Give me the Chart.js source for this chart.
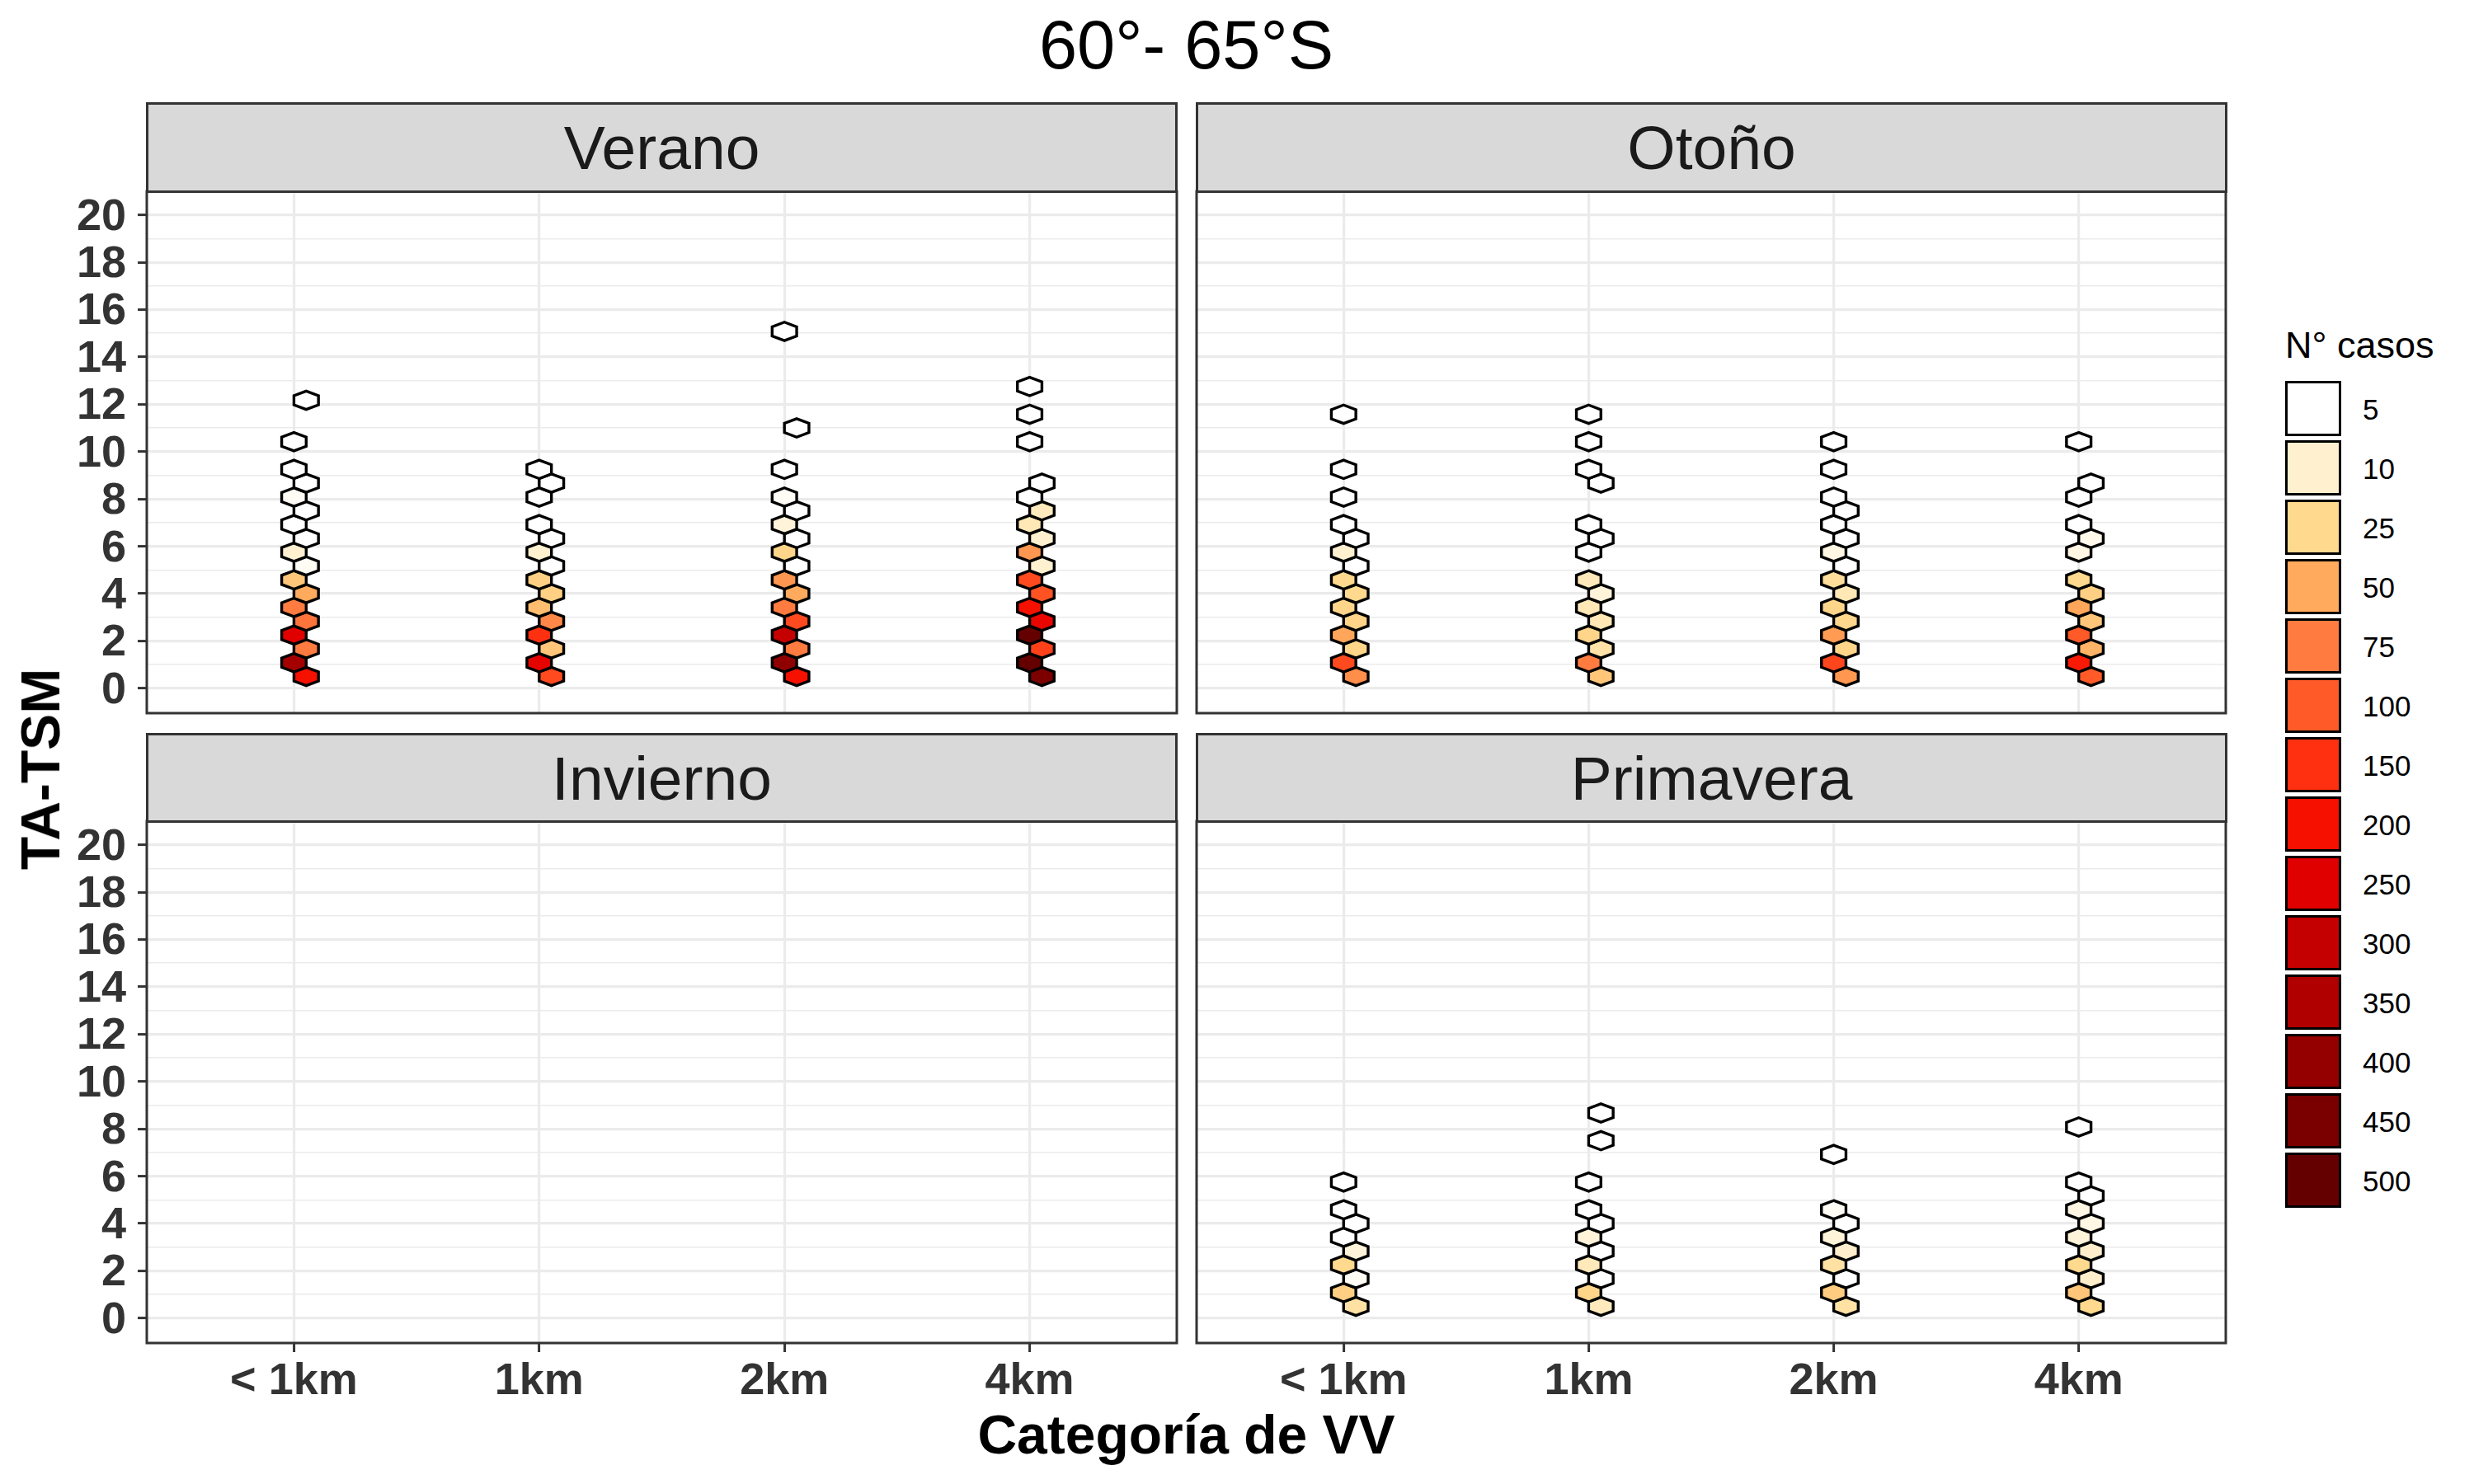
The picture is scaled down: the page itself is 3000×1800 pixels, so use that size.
<!DOCTYPE html>
<html>
<head>
<meta charset="utf-8">
<title>60°- 65°S</title>
<script src="https://cdn.jsdelivr.net/npm/chart.js@4.4.1/dist/chart.umd.min.js"></script>
<style>
  body { margin: 0; background: #fff; font-family: "Liberation Sans", Arial, sans-serif; }
  #page { position: relative; width: 3000px; height: 1800px; overflow: hidden; background: #fff; }
  #page canvas { position: absolute; }
  .strip { position: absolute; box-sizing: border-box; background: #d9d9d9; border: 3px solid #333;
           color: #1a1a1a; font-size: 75px; display: flex; align-items: center; justify-content: center; }
  .txt { position: absolute; line-height: 1; white-space: nowrap; color: #000; }
  .key { position: absolute; box-sizing: border-box; border: 3.4px solid #000; width: 68px; height: 67px; }
</style>
</head>
<body>
<div id="page"></div>
<script>
// ---- data ----
const seasons = ['Verano', 'Otoño', 'Invierno', 'Primavera'];
const categories = ['< 1km', '1km', '2km', '4km'];
const yMajor = [0, 2, 4, 6, 8, 10, 12, 14, 16, 18, 20];
const yMinor = [1, 3, 5, 7, 9, 11, 13, 15, 17, 19];

// centre of each hexbin row (TA-TSM); even rows sit half a hex to the right
const rowY = [0.50, 1.08, 1.67, 2.25, 2.83, 3.42, 4.00, 4.58, 5.17, 5.75, 6.33, 6.92, 7.50,
              8.08, 8.67, 9.25, 9.83, 10.42, 11.00, 11.58, 12.17, 12.75, 13.33, 13.92, 14.50, 15.08];

const legendBreaks = [5, 10, 25, 50, 75, 100, 150, 200, 250, 300, 350, 400, 450, 500];
const legendColors = ['#ffffff', '#fff0d0', '#ffd98e', '#ffaa5c', '#ff7b40', '#ff5a28', '#ff3010',
                      '#f51000', '#e10000', '#c50000', '#b00000', '#940000', '#7a0000', '#650000'];

// N° casos per hexbin row, one list per VV category (null = empty bin)
const verano = [
  [200, 370, 75, 250, 80, 75, 50, 35, 6, 10, 3, 3, 3, 6, 3, 3, null, 2, null, null, 1],
  [120, 240, 35, 150, 68, 40, 30, 30, 4, 10, 3, 3, null, 3, 2, 2],
  [200, 410, 75, 300, 120, 75, 50, 60, 4, 27, 3, 9, 3, 6, null, 2, null, null, 1,
   null, null, null, null, null, null, 1],
  [445, 500, 130, 500, 230, 200, 110, 120, 10, 60, 10, 16, 14, 3, 3, null, null, 2, null, 2, null, 1]
];
const otono = [
  [65, 120, 27, 52, 28, 27, 25, 25, 3, 10, 3, 3, null, 2, null, 2, null, null, null, 1],
  [35, 75, 19, 27, 16, 16, 9, 15, null, 3, 3, 3, null, null, 2, 2, null, 2, null, 1],
  [60, 125, 27, 58, 26, 27, 16, 22, 3, 8, 3, 3, 3, 2, null, 2, null, 1],
  [100, 185, 45, 100, 35, 52, 30, 25, null, 8, 7, 3, null, 2, 2, null, null, 1]
];
const invierno = [[], [], [], []];
const primavera = [
  [20, 30, 6, 25, 9, 3, 3, 3, null, 2],
  [14, 27, 3, 15, 3, 9, 3, 3, null, 2, null, null, 1, null, 1],
  [20, 32, 3, 20, 11, 9, 3, 6, null, null, null, 1],
  [25, 35, 11, 25, 11, 9, 8, 8, 3, 2, null, null, null, 1]
];
const seasonCounts = [verano, otono, invierno, primavera];

// ---- look ----
const hexW = 0.1;      // flat-to-flat width, x units
const hexH = 0.778;    // point-to-point height, y units
const FONT = "'Liberation Sans', Arial, sans-serif";
Chart.defaults.font.family = FONT;

function rgb(h) {
  return [parseInt(h.slice(1, 3), 16), parseInt(h.slice(3, 5), 16), parseInt(h.slice(5, 7), 16)];
}
function fillFor(n) {
  if (n <= legendBreaks[0]) return legendColors[0];
  for (let i = 1; i < legendBreaks.length; i++) {
    if (n <= legendBreaks[i]) {
      const t = (n - legendBreaks[i - 1]) / (legendBreaks[i] - legendBreaks[i - 1]);
      const a = rgb(legendColors[i - 1]), b = rgb(legendColors[i]);
      return 'rgb(' + a.map((v, k) => Math.round(v + (b[k] - v) * t)).join(',') + ')';
    }
  }
  return legendColors[legendColors.length - 1];
}

const hexPlugin = {
  id: 'hexbins',
  afterDatasetsDraw(chart) {
    const {ctx, chartArea: ca, scales: {x, y}} = chart;
    const hw = Math.abs(x.getPixelForValue(hexW / 2) - x.getPixelForValue(0));
    const hh = Math.abs(y.getPixelForValue(0) - y.getPixelForValue(hexH / 2));
    const pts = chart.data.datasets[0].data;
    ctx.save();
    ctx.beginPath();
    ctx.rect(ca.left, ca.top, ca.width, ca.height);
    ctx.clip();
    ctx.lineWidth = 3.4;
    ctx.strokeStyle = '#000';
    ctx.lineJoin = 'miter';
    chart.getDatasetMeta(0).data.forEach((el, i) => {
      const cx = el.x, cy = el.y;
      ctx.beginPath();
      ctx.moveTo(cx, cy - hh);
      ctx.lineTo(cx + hw, cy - hh / 2);
      ctx.lineTo(cx + hw, cy + hh / 2);
      ctx.lineTo(cx, cy + hh);
      ctx.lineTo(cx - hw, cy + hh / 2);
      ctx.lineTo(cx - hw, cy - hh / 2);
      ctx.closePath();
      ctx.fillStyle = fillFor(pts[i].count);
      ctx.fill();
      ctx.stroke();
    });
    ctx.restore();
  },
  afterDraw(chart) {
    const {ctx, chartArea: ca} = chart;
    ctx.save();
    ctx.strokeStyle = '#333';
    ctx.lineWidth = 3;
    ctx.strokeRect(ca.left, ca.top, ca.width, ca.height);
    ctx.restore();
  }
};

// canvas placement of the four facets
const panelBoxes = [
  {left: 0,    top: 228, width: 1431, height: 641, padL: 0, showY: true,  showX: false},
  {left: 1447, top: 228, width: 1256, height: 641, padL: 4, showY: false, showX: false},
  {left: 0,    top: 992, width: 1431, height: 757, padL: 0, showY: true,  showX: true},
  {left: 1447, top: 992, width: 1256, height: 757, padL: 4, showY: false, showX: true}
];
const stripBoxes = [
  {left: 177, top: 124, height: 110}, {left: 1450, top: 124, height: 110},
  {left: 177, top: 889, height: 109}, {left: 1450, top: 889, height: 109}
];

const page = document.getElementById('page');
const yTickValues = yMajor.concat(yMinor).sort((a, b) => a - b);

seasonCounts.forEach((counts, p) => {
  const box = panelBoxes[p];
  const points = [];
  counts.forEach((col, ci) => {
    col.forEach((n, r) => {
      if (n === null || n === undefined) return;
      points.push({x: ci + 1 + (r % 2 === 0 ? hexW / 2 : 0), y: rowY[r], count: n});
    });
  });

  const cv = document.createElement('canvas');
  cv.width = box.width;
  cv.height = box.height;
  cv.style.left = box.left + 'px';
  cv.style.top = box.top + 'px';
  page.appendChild(cv);

  new Chart(cv.getContext('2d'), {
    type: 'scatter',
    data: {datasets: [{data: points, pointRadius: 0, pointHoverRadius: 0}]},
    options: {
      responsive: false,
      animation: false,
      events: [],
      devicePixelRatio: 1,
      layout: {padding: {left: box.padL, right: 4, top: 4, bottom: box.showX ? 0 : 4}},
      plugins: {legend: {display: false}, tooltip: {enabled: false}},
      scales: {
        x: {
          type: 'linear', min: 0.4, max: 4.6,
          afterBuildTicks: s => { s.ticks = categories.map((c, i) => ({value: i + 1})); },
          afterFit: s => { s.height = box.showX ? 120 : 0; s.paddingLeft = 0; s.paddingRight = 0; },
          ticks: {
            display: box.showX, autoSkip: false, maxRotation: 0, padding: 4,
            color: '#333333', font: {size: 54, weight: 'bold'},
            callback: v => categories[v - 1]
          },
          grid: {color: '#ebebeb', lineWidth: 3.2, drawTicks: box.showX, tickLength: 11,
                 tickColor: '#333333', tickWidth: 3},
          border: {display: false}
        },
        y: {
          type: 'linear', min: -1.05, max: 21.0,
          afterBuildTicks: s => { s.ticks = yTickValues.map(v => ({value: v})); },
          afterFit: s => { s.width = box.showY ? 178 : 0; s.paddingTop = 0; s.paddingBottom = 0; },
          ticks: {
            display: box.showY, autoSkip: false, padding: 14, labelOffset: 3,
            color: '#333333', font: {size: 54, weight: 'bold'},
            callback: v => (yMajor.includes(v) ? String(v) : '')
          },
          grid: {
            color: '#ebebeb',
            lineWidth: c => (c.tick && yMajor.includes(c.tick.value) ? 3.2 : 1.6),
            drawTicks: box.showY, tickLength: 11, tickWidth: 3,
            tickColor: c => (c.tick && yMajor.includes(c.tick.value) ? '#333333' : 'rgba(0,0,0,0)')
          },
          border: {display: false}
        }
      }
    },
    plugins: [hexPlugin]
  });

  const sb = stripBoxes[p];
  const strip = document.createElement('div');
  strip.className = 'strip';
  strip.style.left = sb.left + 'px';
  strip.style.top = sb.top + 'px';
  strip.style.width = '1251px';
  strip.style.height = sb.height + 'px';
  strip.textContent = seasons[p];
  page.appendChild(strip);
});

function addText(str, x, y, size, opts) {
  const d = document.createElement('div');
  d.className = 'txt';
  d.textContent = str;
  d.style.left = x + 'px';
  d.style.top = y + 'px';
  d.style.fontSize = size + 'px';
  if (opts.bold) d.style.fontWeight = 'bold';
  d.style.transform = opts.transform;
  page.appendChild(d);
}

addText('60°- 65°S', 1438.5, 53.5, 83, {transform: 'translate(-50%, -50%)'});
addText('Categoría de VV', 1438.5, 1739.5, 66, {bold: true, transform: 'translate(-50%, -50%)'});
addText('TA-TSM', 49, 933, 66, {bold: true, transform: 'translate(-50%, -50%) rotate(-90deg)'});

// legend
addText('N° casos', 2771, 417.5, 45, {transform: 'translateY(-50%)'});
legendBreaks.forEach((b, i) => {
  const k = document.createElement('div');
  k.className = 'key';
  k.style.left = '2771px';
  k.style.top = (462 + 72 * i) + 'px';
  k.style.background = legendColors[i];
  page.appendChild(k);
  addText(String(b), 2865, 462 + 72 * i + 34, 35, {transform: 'translateY(-50%)'});
});
</script>
</body>
</html>
